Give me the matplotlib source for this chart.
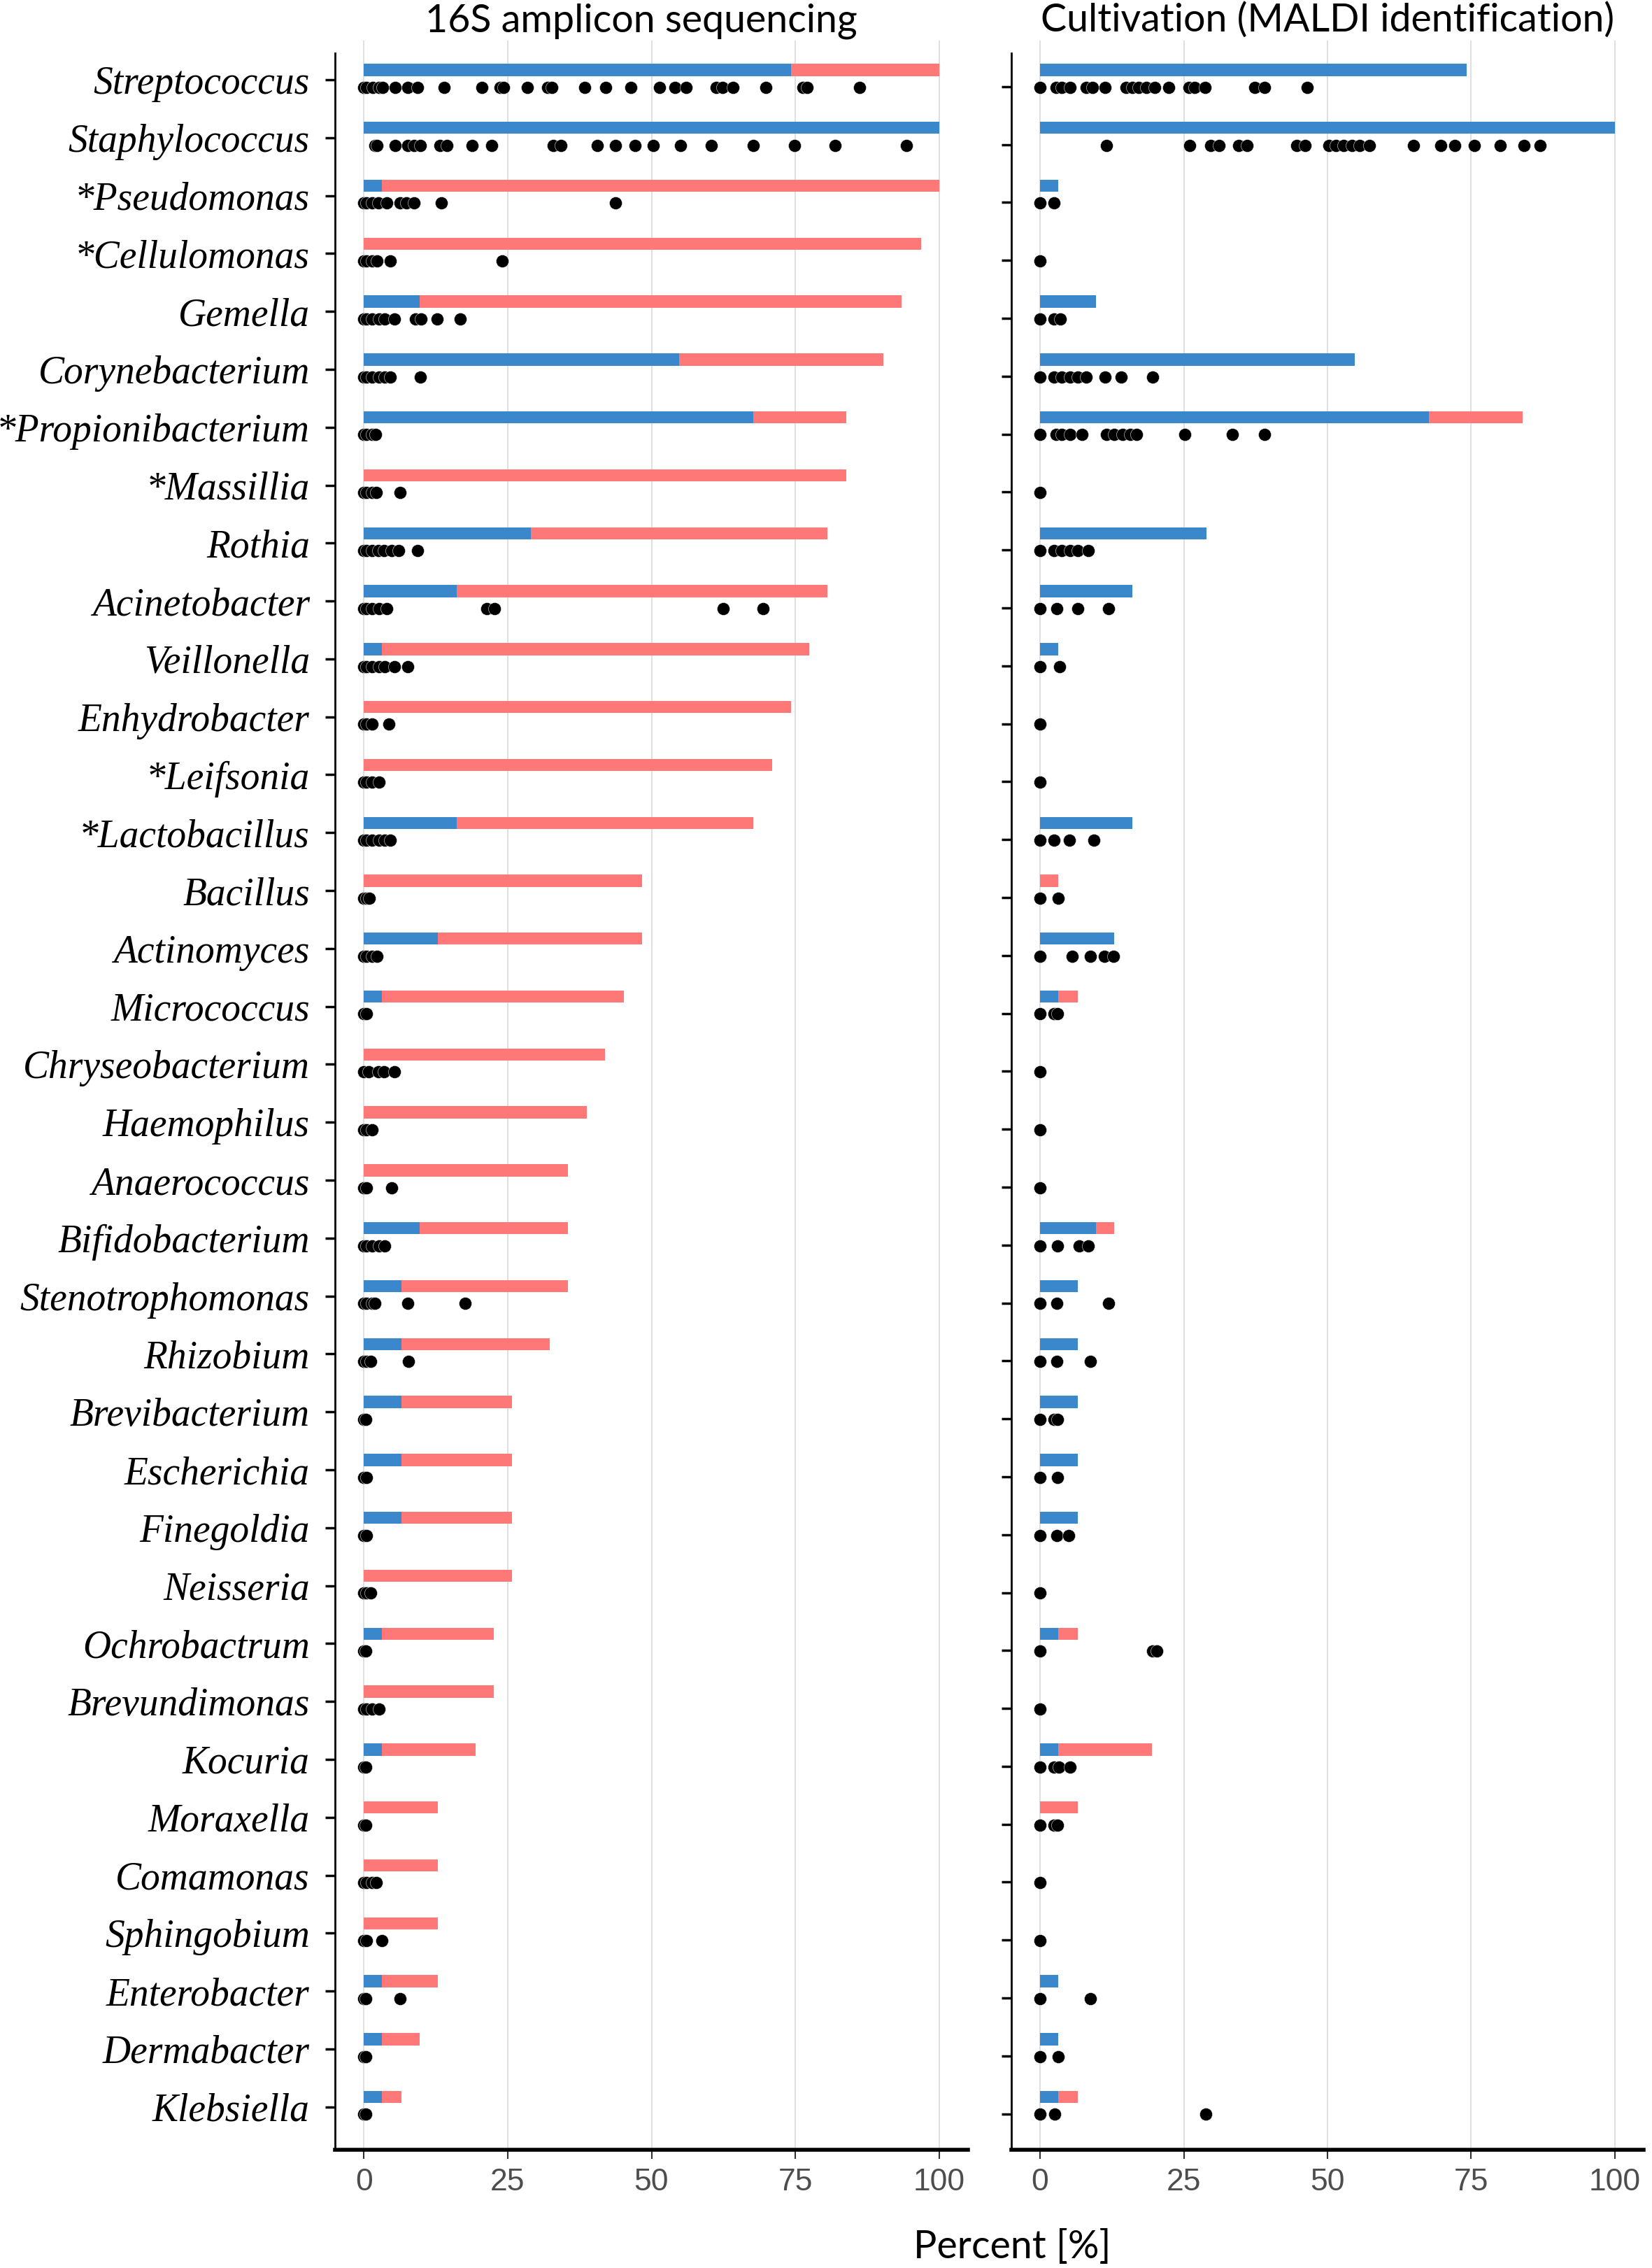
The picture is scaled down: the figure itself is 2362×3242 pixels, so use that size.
import matplotlib as mpl
mpl.use("Agg")

import matplotlib.pyplot as plt

genera = ["Streptococcus", "Staphylococcus", "*Pseudomonas", "*Cellulomonas", "Gemella",
          "Corynebacterium", "*Propionibacterium", "*Massillia", "Rothia", "Acinetobacter",
          "Veillonella", "Enhydrobacter", "*Leifsonia", "*Lactobacillus", "Bacillus",
          "Actinomyces", "Micrococcus", "Chryseobacterium", "Haemophilus", "Anaerococcus",
          "Bifidobacterium", "Stenotrophomonas", "Rhizobium", "Brevibacterium", "Escherichia",
          "Finegoldia", "Neisseria", "Ochrobactrum", "Brevundimonas", "Kocuria",
          "Moraxella", "Comamonas", "Sphingobium", "Enterobacter", "Dermabacter", "Klebsiella"]

# detected by both methods (blue) and total detection (red), percent of samples
seq_both = [74.2, 100, 3.2, 0, 9.7, 54.8, 67.7, 0, 29.0, 16.1,
            3.2, 0, 0, 16.1, 0, 12.9, 3.2, 0, 0, 0,
            9.7, 6.5, 6.5, 6.5, 6.5, 6.5, 0, 3.2, 0, 3.2,
            0, 0, 0, 3.2, 3.2, 3.2]
seq_total = [100, 100, 100, 96.8, 93.5, 90.3, 83.9, 83.9, 80.6, 80.6,
             77.4, 74.2, 71.0, 67.7, 48.4, 48.4, 45.2, 41.9, 38.7, 35.5,
             35.5, 35.5, 32.3, 25.8, 25.8, 25.8, 25.8, 22.6, 22.6, 19.4,
             12.9, 12.9, 12.9, 12.9, 9.7, 6.5]
cult_both = [74.2, 100, 3.2, 0, 9.7, 54.8, 67.7, 0, 29.0, 16.1,
             3.2, 0, 0, 16.1, 0, 12.9, 3.2, 0, 0, 0,
             9.7, 6.5, 6.5, 6.5, 6.5, 6.5, 0, 3.2, 0, 3.2,
             0, 0, 0, 3.2, 3.2, 3.2]
cult_total = [74.2, 100, 3.2, 0, 9.7, 54.8, 83.9, 0, 29.0, 16.1,
              3.2, 0, 0, 16.1, 3.2, 12.9, 6.5, 0, 0, 0,
              12.9, 6.5, 6.5, 6.5, 6.5, 6.5, 0, 6.5, 0, 19.4,
              6.5, 0, 0, 3.2, 3.2, 6.5]

# relative abundance per sample
seq_dots = [
    [0, 0.5, 1.6, 2.6, 3.3, 5.5, 7.7, 9.4, 14.0, 20.5, 23.7, 24.3, 28.4, 31.9, 32.7, 38.4,
     42.0, 46.4, 51.4, 54.1, 56.0, 61.3, 62.3, 64.1, 69.9, 76.3, 77.0, 86.2],
    [1.9, 2.3, 5.5, 7.7, 8.7, 9.8, 13.2, 14.5, 18.8, 22.2, 32.9, 34.3, 40.6, 43.7, 47.1,
     50.3, 55.0, 60.4, 67.7, 74.8, 81.9, 94.3],
    [0, 0.5, 1.5, 2.5, 4.0, 6.3, 7.4, 8.7, 13.5, 43.7],
    [0, 0.5, 1.4, 2.3, 4.6, 24.0],
    [0, 0.5, 1.5, 2.6, 3.6, 5.3, 9.0, 10.0, 12.7, 16.8],
    [0, 0.5, 1.5, 2.6, 3.6, 4.6, 9.8],
    [0, 0.5, 1.5, 2.0],
    [0, 0.5, 1.5, 2.2, 6.3],
    [0, 0.5, 1.5, 2.5, 3.5, 4.8, 6.0, 9.3],
    [0, 0.5, 1.5, 2.6, 4.0, 21.4, 22.7, 62.5, 69.4],
    [0, 0.5, 1.5, 2.6, 3.6, 5.3, 7.6],
    [0, 0.5, 1.5, 4.3],
    [0, 0.5, 1.5, 2.6],
    [0, 0.5, 1.5, 2.6, 3.6, 4.6],
    [0, 0.5, 1.0],
    [0, 0.5, 1.5, 2.3],
    [0, 0.5],
    [0, 0.8, 2.5, 3.5, 5.3],
    [0, 0.5, 1.5],
    [0, 0.5, 4.8],
    [0, 0.5, 1.5, 2.6, 3.6],
    [0, 0.5, 1.5, 1.9, 7.6, 17.6],
    [0, 0.5, 1.2, 7.8],
    [0, 0.3],
    [0, 0.5],
    [0, 0.5],
    [0, 0.5, 1.2],
    [0, 0.3],
    [0, 0.5, 1.5, 2.6],
    [0, 0.3],
    [0, 0.3],
    [0, 0.5, 1.5, 2.2],
    [0, 0.5, 3.1],
    [0, 0.3, 6.3],
    [0, 0.3],
    [0, 0.3],
]
cult_dots = [
    [0, 2.8, 3.8, 5.2, 8.0, 9.1, 11.3, 15.0, 16.0, 17.1, 18.5, 19.9, 22.4, 25.9, 26.9,
     28.7, 37.4, 39.0, 46.5],
    [11.5, 26.0, 29.7, 31.1, 34.6, 36.0, 44.7, 46.1, 50.3, 51.4, 52.8, 54.2, 55.6, 57.3,
     65.0, 69.7, 72.2, 75.5, 80.0, 84.2, 87.0],
    [0, 2.4],
    [0],
    [0, 2.4, 3.5],
    [0, 2.4, 3.8, 5.2, 6.6, 8.0, 11.3, 14.1, 19.6],
    [0, 2.8, 3.8, 5.2, 7.3, 11.5, 12.9, 14.3, 15.7, 16.8, 25.2, 33.5, 39.1],
    [0],
    [0, 2.4, 3.8, 5.2, 6.6, 8.4],
    [0, 2.9, 6.6, 11.9],
    [0, 3.4],
    [0],
    [0],
    [0, 2.4, 5.1, 9.3],
    [0, 3.1],
    [0, 5.6, 8.7, 11.2, 12.8],
    [0, 2.4, 3.0],
    [0],
    [0],
    [0],
    [0, 3.0, 6.8, 8.4],
    [0, 2.9, 11.9],
    [0, 2.9, 8.7],
    [0, 2.4, 3.0],
    [0, 3.0],
    [0, 2.9, 5.0],
    [0],
    [0, 19.6, 20.3],
    [0],
    [0, 2.4, 3.3, 5.2],
    [0, 2.4, 3.0],
    [0],
    [0],
    [0, 8.7],
    [0, 3.1],
    [0, 2.6, 28.8],
]

BLUE = '#3a87cb'
RED = '#fd7876'

W, H = 2362, 3242
fig = plt.figure(figsize=(W / 100, H / 100), dpi=100)


def px_axes(x0, x1, y0, y1):
    return fig.add_axes([x0 / W, 1 - y1 / H, (x1 - x0) / W, (y1 - y0) / H])


def draw_panel(ax, both, total, dots, tick_shift):
    rows = list(range(len(genera)))
    bar_y = [r - 0.17 for r in rows]
    ax.barh(bar_y, total, height=0.21, color=RED, zorder=2)
    ax.barh(bar_y, both, height=0.21, color=BLUE, zorder=3)
    for r, vals in zip(rows, dots):
        ax.scatter(vals, [r + 0.13] * len(vals), s=170, c='black',
                   edgecolors='white', linewidths=0.35, zorder=4)
    ax.set_xlim(-5, 105)
    ax.set_ylim(35.74, -0.676)
    ax.set_xticks([0, 25, 50, 75, 100])
    ax.set_yticks([r + tick_shift for r in rows])
    ax.grid(axis='x', color='#dcdcdc', lw=1.3)
    ax.set_axisbelow(True)
    for s in ['top', 'right']:
        ax.spines[s].set_visible(False)
    ax.spines['left'].set_linewidth(2)
    ax.spines['left'].set_bounds(35.74, -0.46)
    ax.spines['bottom'].set_linewidth(4)
    ax.tick_params(axis='x', length=9, width=1.5, colors='#333333',
                   labelcolor='#4d4d4d', labelsize=32, pad=10)
    ax.tick_params(axis='y', length=10, width=2.5, pad=16)
    for lab in ax.get_xticklabels():
        lab.set_fontfamily('Liberation Sans')


ax_seq = px_axes(479, 1384, 58, 3073)
ax_cult = px_axes(1446, 2350, 58, 3073)

draw_panel(ax_seq, seq_both, seq_total, seq_dots, 0)
ax_seq.set_yticklabels(genera, fontfamily='Liberation Serif', fontstyle='italic', fontsize=40)

draw_panel(ax_cult, cult_both, cult_total, cult_dots, 0.12)
ax_cult.set_yticklabels([])

fig.text((479 + 1384) / 2 / W - 0.006, 1 - 45 / H, "16S amplicon sequencing", ha='center',
         va='baseline', fontsize=40, fontfamily='Lato')
fig.text((1446 + 2350) / 2 / W, 1 - 45 / H, "Cultivation (MALDI identification)",
         ha='center', va='baseline', fontsize=40, fontfamily='Lato')
fig.text(1447 / W, 1 - 3228 / H, "Percent [%]", ha='center', va='baseline',
         fontsize=40, fontfamily='Lato')

fig.savefig("out.png", dpi=100)
